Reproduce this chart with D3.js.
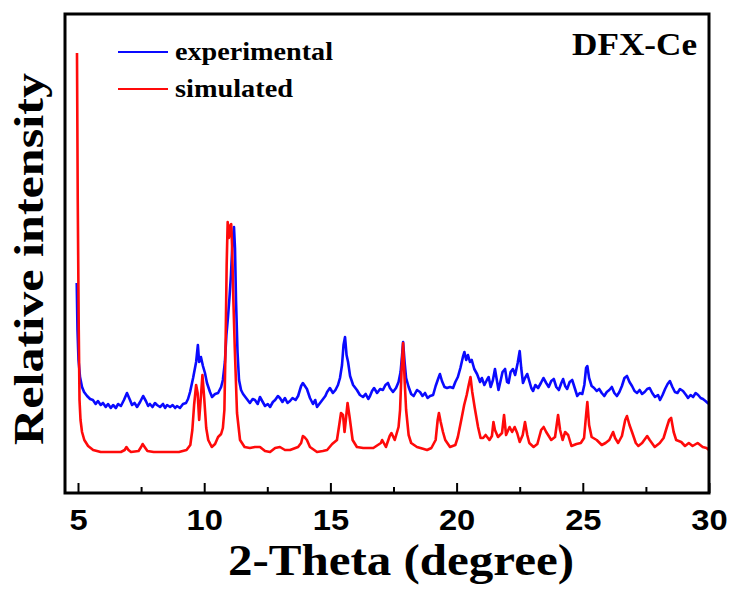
<!DOCTYPE html>
<html>
<head>
<meta charset="utf-8">
<script src="https://cdn.jsdelivr.net/npm/d3@7"></script>
<style>
  body { margin: 0; background: #fff; }
  svg { display: block; }
</style>
</head>
<body>
<svg width="734" height="590"></svg>
<script>
// 2-theta (degree) and relative intensity (a.u.)
const expTheta = [4.95, 4.98, 5.02, 5.08, 5.16, 5.24, 5.36, 5.48, 5.59, 5.70, 5.79, 5.90, 5.99, 6.10, 6.19, 6.30, 6.39, 6.50, 6.59, 6.70,
  6.82, 6.94, 7.06, 7.14, 7.24, 7.34, 7.46, 7.58, 7.69, 7.78, 7.85, 7.95, 8.05, 8.13, 8.25, 8.37, 8.45, 8.53, 8.65, 8.75,
  8.85, 8.92, 9.04, 9.16, 9.28, 9.36, 9.44, 9.56, 9.68, 9.75, 9.80, 9.87, 9.95, 10.03, 10.11, 10.23, 10.31, 10.43, 10.55, 10.67,
  10.74, 10.82, 10.88, 10.94, 11.00, 11.06, 11.12, 11.18, 11.22, 11.26, 11.32, 11.38, 11.46, 11.54, 11.66, 11.81, 11.92, 12.01, 12.12, 12.21,
  12.32, 12.41, 12.52, 12.61, 12.72, 12.81, 12.92, 13.00, 13.10, 13.20, 13.30, 13.40, 13.50, 13.62, 13.72, 13.84, 13.91, 13.99, 14.07, 14.19,
  14.31, 14.40, 14.47, 14.59, 14.71, 14.80, 14.87, 14.98, 15.10, 15.20, 15.30, 15.38, 15.46, 15.52, 15.58, 15.64, 15.70, 15.78, 15.90, 16.05,
  16.17, 16.29, 16.40, 16.50, 16.57, 16.65, 16.73, 16.85, 16.97, 17.08, 17.18, 17.28, 17.36, 17.48, 17.60, 17.70, 17.78, 17.84, 17.88, 17.94,
  18.00, 18.10, 18.20, 18.30, 18.43, 18.55, 18.65, 18.75, 18.85, 18.95, 19.07, 19.17, 19.28, 19.34, 19.42, 19.52, 19.62, 19.74, 19.86, 19.95,
  20.05, 20.15, 20.25, 20.31, 20.38, 20.45, 20.53, 20.60, 20.70, 20.81, 20.93, 21.00, 21.10, 21.20, 21.27, 21.35, 21.44, 21.52, 21.58, 21.66,
  21.75, 21.82, 21.92, 22.00, 22.06, 22.14, 22.23, 22.32, 22.42, 22.50, 22.56, 22.63, 22.71, 22.80, 22.88, 22.96, 23.03, 23.12, 23.23, 23.34,
  23.44, 23.55, 23.65, 23.75, 23.85, 23.95, 24.05, 24.15, 24.22, 24.30, 24.38, 24.48, 24.58, 24.68, 24.78, 24.88, 24.98, 25.06, 25.13, 25.18,
  25.25, 25.35, 25.45, 25.55, 25.65, 25.75, 25.85, 25.95, 26.05, 26.15, 26.25, 26.35, 26.45, 26.55, 26.65, 26.75, 26.85, 26.95, 27.05, 27.15,
  27.25, 27.35, 27.45, 27.55, 27.65, 27.75, 27.86, 27.98, 28.06, 28.16, 28.26, 28.36, 28.45, 28.55, 28.65, 28.75, 28.85, 28.97, 29.09, 29.17,
  29.27, 29.37, 29.47, 29.57, 29.67, 29.76, 29.86, 29.95, 30.00];
const expIntensity = [210, 163, 133, 116, 106, 101, 97, 94, 93, 89, 92, 88, 90, 86, 89, 85, 88, 85, 89, 87,
  93, 100, 93, 88, 90, 86, 91, 97, 92, 87, 89, 86, 90, 88, 86, 89, 85, 88, 86, 88,
  85, 87, 85, 89, 90, 94, 101, 115, 131, 148, 131, 136, 127, 120, 110, 101, 96, 99, 100, 106,
  113, 131, 158, 175, 195, 218, 251, 266, 245, 193, 141, 113, 103, 99, 95, 90, 94, 93, 89, 96,
  91, 87, 89, 86, 91, 93, 97, 95, 91, 95, 90, 92, 95, 93, 97, 107, 110, 107, 104, 95,
  89, 93, 86, 90, 94, 97, 101, 105, 100, 103, 108, 115, 128, 148, 156, 138, 131, 117, 108, 103,
  98, 96, 99, 94, 97, 102, 105, 100, 104, 103, 108, 110, 105, 101, 105, 111, 121, 138, 151, 131,
  115, 106, 99, 97, 103, 101, 97, 100, 95, 97, 98, 107, 115, 119, 112, 106, 105, 106, 105, 111,
  116, 125, 136, 141, 133, 138, 131, 133, 124, 119, 111, 115, 108, 113, 116, 106, 113, 124, 115, 103,
  113, 121, 124, 111, 110, 121, 124, 118, 130, 142, 125, 110, 115, 119, 112, 105, 102, 108, 105, 110,
  115, 110, 106, 112, 114, 106, 103, 110, 114, 107, 104, 111, 113, 105, 97, 100, 99, 108, 125, 127,
  115, 107, 105, 102, 104, 100, 97, 101, 103, 106, 100, 97, 101, 107, 115, 117, 111, 107, 102, 100,
  103, 99, 101, 104, 105, 100, 96, 98, 93, 98, 104, 109, 112, 106, 101, 100, 104, 102, 98, 95,
  98, 96, 100, 98, 95, 94, 92, 90, 89];

const simTheta = [4.96, 4.99, 5.03, 5.06, 5.10, 5.16, 5.25, 5.40, 5.60, 5.90, 6.30, 6.70, 6.85, 6.92, 7.00, 7.10, 7.40, 7.50, 7.56, 7.64,
  7.75, 8.00, 8.50, 9.00, 9.30, 9.45, 9.53, 9.60, 9.68, 9.74, 9.80, 9.86, 9.93, 10.00, 10.08, 10.16, 10.30, 10.43, 10.55, 10.67,
  10.74, 10.80, 10.85, 10.89, 10.93, 10.98, 11.02, 11.07, 11.11, 11.15, 11.21, 11.30, 11.42, 11.60, 11.81, 12.01, 12.21, 12.41, 12.61, 12.81,
  13.00, 13.20, 13.40, 13.72, 13.84, 13.91, 13.97, 14.07, 14.19, 14.47, 14.70, 14.87, 15.07, 15.26, 15.35, 15.42, 15.50, 15.56, 15.62, 15.68,
  15.76, 15.88, 16.05, 16.30, 16.70, 17.00, 17.05, 17.20, 17.35, 17.42, 17.55, 17.70, 17.76, 17.82, 17.88, 17.94, 18.00, 18.10, 18.20, 18.43,
  18.70, 18.83, 19.00, 19.17, 19.25, 19.30, 19.37, 19.46, 19.55, 19.74, 19.95, 20.05, 20.20, 20.30, 20.40, 20.48, 20.55, 20.62, 20.72, 20.85,
  20.95, 21.05, 21.15, 21.30, 21.40, 21.46, 21.52, 21.64, 21.80, 21.88, 21.96, 22.10, 22.20, 22.30, 22.40, 22.50, 22.62, 22.71, 22.80, 22.88,
  23.05, 23.20, 23.35, 23.45, 23.55, 23.75, 23.90, 24.02, 24.10, 24.20, 24.30, 24.42, 24.55, 24.75, 24.92, 25.05, 25.13, 25.18, 25.25, 25.35,
  25.55, 25.75, 25.90, 26.05, 26.20, 26.28, 26.40, 26.55, 26.68, 26.75, 26.85, 26.95, 27.10, 27.20, 27.35, 27.55, 27.65, 27.85, 28.05, 28.20,
  28.32, 28.42, 28.50, 28.60, 28.70, 28.90, 29.05, 29.20, 29.35, 29.55, 29.75, 29.90, 30.00];
const simIntensity = [440, 293, 163, 93, 73, 61, 53, 47, 43, 41, 41, 41, 43, 46, 43, 41, 42, 46, 49, 46,
  42, 41, 41, 41, 43, 48, 63, 88, 108, 100, 73, 93, 118, 95, 65, 53, 46, 49, 56, 59,
  65, 83, 153, 228, 271, 255, 267, 269, 243, 198, 146, 80, 53, 46, 45, 46, 46, 42, 41, 45,
  46, 43, 43, 46, 50, 57, 56, 53, 46, 41, 42, 43, 49, 53, 68, 80, 78, 61, 75, 90,
  76, 53, 46, 45, 45, 50, 53, 46, 57, 60, 53, 66, 83, 123, 150, 113, 83, 58, 50, 46,
  44, 43, 45, 53, 73, 80, 71, 61, 53, 46, 48, 56, 75, 88, 98, 108, 116, 101, 85, 66,
  55, 55, 58, 53, 57, 71, 63, 56, 60, 78, 58, 66, 61, 66, 60, 51, 58, 71, 58, 50,
  46, 49, 63, 66, 61, 53, 56, 78, 63, 53, 61, 58, 47, 49, 50, 55, 78, 91, 68, 56,
  53, 48, 50, 53, 61, 55, 50, 57, 73, 77, 68, 61, 50, 47, 50, 57, 53, 46, 50, 55,
  65, 73, 75, 61, 53, 51, 47, 50, 47, 50, 46, 45, 43];

const majorTicks = [5, 10, 15, 20, 25, 30];
const minorTicks = [7.5, 12.5, 17.5, 22.5, 27.5];

const legendNames = ['experimental', 'simulated'];
const legendColors = ['#0a0aff', '#ff0a0a'];

const plotLeft = 65, plotRight = 709, plotTop = 14, plotBottom = 493;

const svg = d3.select('svg');

const x = d3.scaleLinear().domain([4.485, 30]).range([plotLeft, plotRight]);
const y = d3.scaleLinear().domain([0, 479]).range([plotBottom, plotTop]);

const line = d3.line()
  .x(d => x(d[0]))
  .y(d => y(d[1]));

function drawSeries(theta, intensity, color) {
  svg.append('path')
    .datum(d3.zip(theta, intensity))
    .attr('fill', 'none')
    .attr('stroke', color)
    .attr('stroke-width', 2.6)
    .attr('stroke-linejoin', 'round')
    .attr('d', line);
}

drawSeries(expTheta, expIntensity, legendColors[0]);
drawSeries(simTheta, simIntensity, legendColors[1]);

// minor ticks first, major ticks with labels on top
svg.append('g')
  .attr('transform', `translate(0, ${plotBottom})`)
  .call(d3.axisBottom(x).tickValues(minorTicks).tickSize(-6).tickFormat(''))
  .call(g => g.select('.domain').remove())
  .call(g => g.selectAll('line').attr('stroke', '#000').attr('stroke-width', 2));

svg.append('g')
  .attr('transform', `translate(0, ${plotBottom})`)
  .call(d3.axisBottom(x).tickValues(majorTicks).tickSize(-10).tickPadding(16).tickFormat(d3.format('d')))
  .call(g => g.select('.domain').remove())
  .call(g => g.selectAll('line').attr('stroke', '#000').attr('stroke-width', 2))
  .call(g => g.selectAll('text')
    .attr('fill', '#000')
    .attr('transform', 'scale(1.09,1)')
    .style('font-family', 'Arial, "Liberation Sans", sans-serif')
    .style('font-weight', 'bold')
    .style('font-size', '30px'));

// plot frame
svg.append('rect')
  .attr('x', plotLeft)
  .attr('y', plotTop)
  .attr('width', plotRight - plotLeft)
  .attr('height', plotBottom - plotTop)
  .attr('fill', 'none')
  .attr('stroke', '#000')
  .attr('stroke-width', 3);

const serif = '"Times New Roman", "Liberation Serif", serif';

svg.append('text')
  .attr('x', 401)
  .attr('y', 575)
  .attr('text-anchor', 'middle')
  .attr('textLength', 346)
  .attr('lengthAdjust', 'spacingAndGlyphs')
  .style('font-family', serif)
  .style('font-weight', 'bold')
  .style('font-size', '45px')
  .text('2-Theta (degree)');

svg.append('text')
  .attr('transform', 'translate(43, 259) rotate(-90)')
  .attr('text-anchor', 'middle')
  .attr('textLength', 372)
  .attr('lengthAdjust', 'spacingAndGlyphs')
  .style('font-family', serif)
  .style('font-weight', 'bold')
  .style('font-size', '43px')
  .text('Relative intensity');

svg.append('text')
  .attr('x', 572)
  .attr('y', 55)
  .attr('textLength', 125)
  .attr('lengthAdjust', 'spacingAndGlyphs')
  .style('font-family', serif)
  .style('font-weight', 'bold')
  .style('font-size', '31px')
  .text('DFX-Ce');

// legend
const legend = svg.append('g')
  .selectAll('g')
  .data(legendNames)
  .enter()
  .append('g')
  .attr('transform', (d, i) => `translate(118, ${52 + i * 37})`);

legend.append('line')
  .attr('x1', 0)
  .attr('x2', 50)
  .attr('stroke', (d, i) => legendColors[i])
  .attr('stroke-width', 2);

legend.append('text')
  .attr('x', 57)
  .attr('y', 8)
  .attr('textLength', (d, i) => i === 0 ? 158 : 118)
  .attr('lengthAdjust', 'spacingAndGlyphs')
  .style('font-family', serif)
  .style('font-weight', 'bold')
  .style('font-size', '26px')
  .text(d => d);
</script>
</body>
</html>
